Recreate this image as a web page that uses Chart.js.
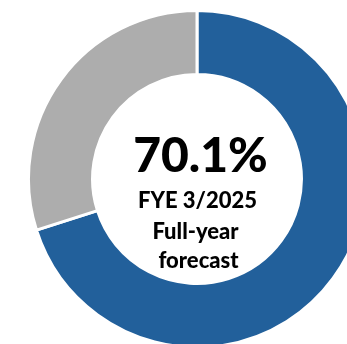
<!DOCTYPE html>
<html>
<head>
<meta charset="utf-8">
<script src="https://cdn.jsdelivr.net/npm/chart.js@4"></script>
<style>
    html, body { margin: 0; padding: 0; background: #fff; overflow: hidden; width: 347px; height: 344px; }
    #wrap { position: relative; width: 347px; height: 344px; }
    #ring { position: absolute; left: 27px; top: 9px; }
    .lbl { position: absolute; left: 0; width: 347px; text-align: center; font-family: Lato, "Open Sans", sans-serif; font-weight: 900; color: #000; line-height: 1; white-space: nowrap; }
</style>
</head>
<body>
<div id="wrap">
    <canvas id="ring" width="340" height="340"></canvas>
    <div class="lbl" id="pct" style="top:130px; left:27px; font-size:48px;"></div>
    <div class="lbl" id="line1" style="top:189px; left:24px; font-size:22px;"></div>
    <div class="lbl" id="line2" style="top:220px; left:22px; font-size:22px;"></div>
    <div class="lbl" id="line3" style="top:249px; left:25px; font-size:22px;"></div>
</div>
<script>
// progress toward the full-year forecast
var segments = ["Achieved", "Remaining"];
var shares = [70.1, 29.9];
var segmentColors = ["#22609b", "#adadad"];
var captionLines = ["FYE 3/2025", "Full-year", "forecast"];

document.getElementById("pct").innerText = shares[0].toFixed(1) + "%";
document.getElementById("line1").innerText = captionLines[0];
document.getElementById("line2").innerText = captionLines[1];
document.getElementById("line3").innerText = captionLines[2];

var ctx = document.getElementById("ring").getContext("2d");
new Chart(ctx, {
    type: "doughnut",
    data: {
        labels: segments,
        datasets: [{
            data: shares,
            backgroundColor: segmentColors,
            borderColor: "#ffffff",
            borderWidth: 3
        }]
    },
    options: {
        responsive: false,
        animation: false,
        cutout: "62%",
        layout: { padding: 0 },
        plugins: {
            legend: { display: false },
            tooltip: { enabled: false }
        }
    }
});
</script>
</body>
</html>
